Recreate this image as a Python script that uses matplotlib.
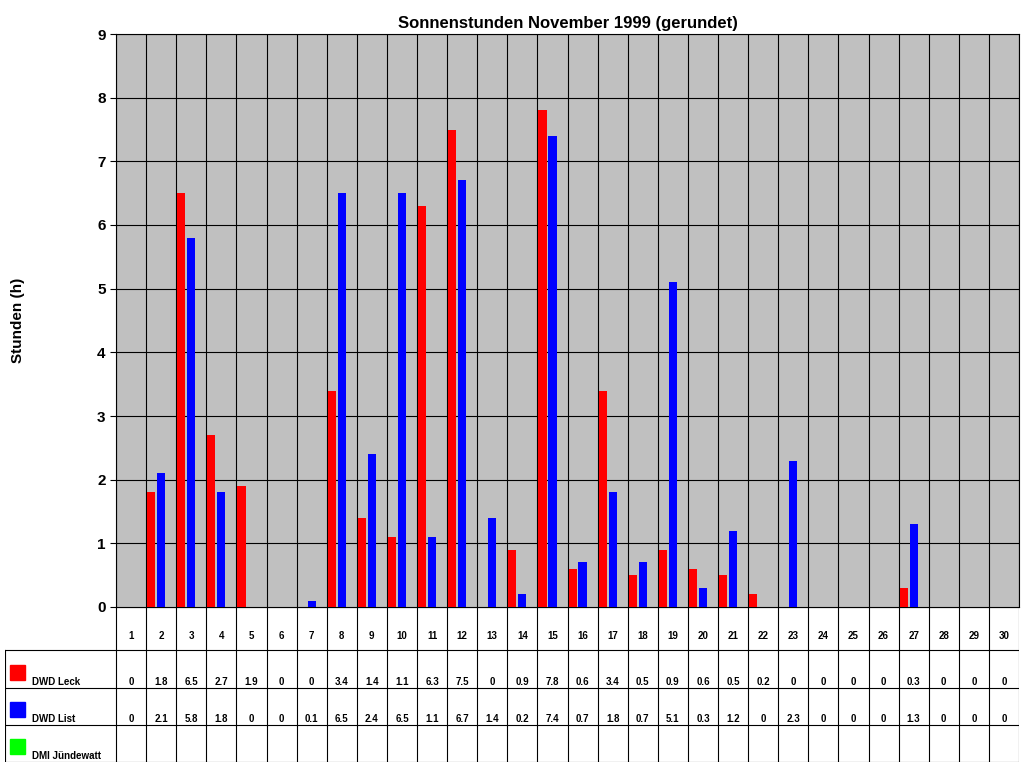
import matplotlib
matplotlib.use("Agg")
import matplotlib.pyplot as plt
import numpy as np

plt.rcParams['font.family'] = ['Liberation Sans', 'DejaVu Sans']

days = list(range(1, 31))
leck = [0,1.8,6.5,2.7,1.9,0,0,3.4,1.4,1.1,6.3,7.5,0,0.9,7.8,0.6,3.4,0.5,0.9,0.6,0.5,0.2,0,0,0,0,0.3,0,0,0]
list_ = [0,2.1,5.8,1.8,0,0,0.1,6.5,2.4,6.5,1.1,6.7,1.4,0.2,7.4,0.7,1.8,0.7,5.1,0.3,1.2,0,2.3,0,0,0,1.3,0,0,0]
jw = [None]*30
series = [("DWD Leck", leck, "#FF0000"), ("DWD List", list_, "#0000FF"), ("DMI Jündewatt", jw, "#00FF00")]

fig = plt.figure(figsize=(10.24, 7.68), dpi=100)
ax = fig.add_axes([116/1024, 161/768, 903/1024, 573/768])
ax.set_facecolor("#C0C0C0")
x = np.array(days)
w = 0.27
for i, (name, vals, c) in enumerate(series):
    v = [0 if a is None else a for a in vals]
    ax.bar(x + (i - 1) * 0.33, v, width=w, color=c, zorder=3)
ax.set_xlim(0.5, 30.5)
ax.set_ylim(0, 9)
ax.set_yticks(range(10))
ax.set_yticklabels([str(i) for i in range(10)], fontsize=11, fontweight="bold")
ax.set_xticks([])
for k in range(1, 10):
    ax.axhline(k, color="black", lw=0.8, zorder=1)
for k in range(31):
    ax.axvline(k + 0.5, color="black", lw=0.8, zorder=1)
ax.tick_params(axis="y", length=4)
ax.set_ylabel("Stunden (h)", fontsize=11, fontweight="bold", labelpad=52)
ax.set_title("Sonnenstunden November 1999 (gerundet)", fontsize=12, fontweight="bold", pad=4)

# table
ta = fig.add_axes([5/1024, 6/768, 1014/1024, 155/768])
lab_w = 111 / 30.1
ta.set_xlim(0.5 - lab_w, 30.5)
ta.set_ylim(155, 0)
ta.axis("off")
rows = [0, 43, 81, 118, 155]
for y in rows[1:]:
    ta.plot([0.5 - lab_w, 30.5], [y, y], color="black", lw=0.8)
ta.plot([0.5, 30.5], [0, 0], color="black", lw=0.8)
ta.plot([0.5 - lab_w]*2, [43, 155], color="black", lw=0.8)
for k in range(31):
    ta.plot([k + 0.5]*2, [0, 155], color="black", lw=0.8)
for d in days:
    ta.text(d, 29, str(d), ha="center", va="center", fontsize=7, fontweight="bold")
for r, (name, vals, c) in enumerate(series):
    y0, y1 = rows[r + 1], rows[r + 2]
    ta.add_patch(plt.Rectangle((0.5 - lab_w + 0.17, y1 - 23), 0.5, 15, color=c))
    ta.text(0.5 - lab_w + 0.9, y1 - 6, name, ha="left", va="center", fontsize=7, fontweight="bold")
    for d, v in zip(days, vals):
        if v is not None:
            ta.text(d, y1 - 6, f"{v:g}", ha="center", va="center", fontsize=7, fontweight="bold")
fig.savefig("out.png", dpi=100)
